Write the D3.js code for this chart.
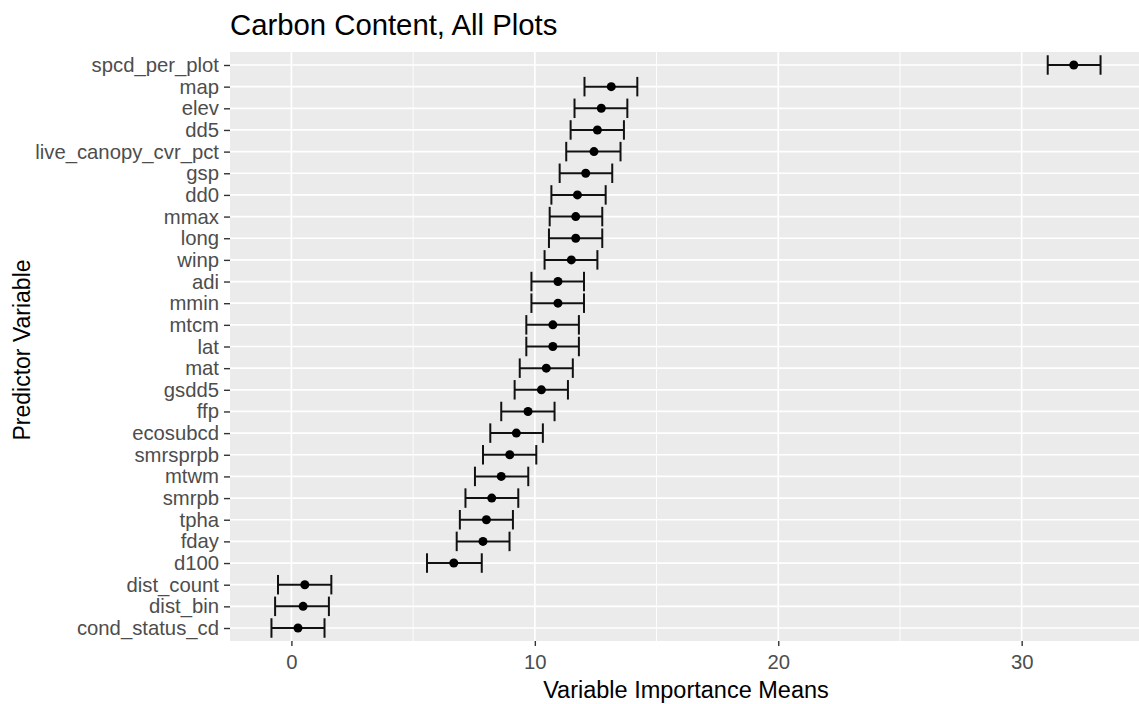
<!DOCTYPE html>
<html>
<head>
<meta charset="utf-8">
<script src="https://cdn.jsdelivr.net/npm/d3@7"></script>
<style>
  body { margin: 0; background: white; }
  svg { display: block; font-family: "Liberation Sans", Arial, sans-serif; }
</style>
</head>
<body>
<div id="chart"></div>
<script>
const width = 1139, height = 704;
const panel = {left: 230, right: 1142, top: 52, bottom: 641};

// top to bottom, as drawn
let variables = ["spcd_per_plot", "map", "elev", "dd5", "live_canopy_cvr_pct", "gsp", "dd0", "mmax", "long", "winp",
                 "adi", "mmin", "mtcm", "lat", "mat", "gsdd5", "ffp", "ecosubcd", "smrsprpb", "mtwm",
                 "smrpb", "tpha", "fday", "d100", "dist_count", "dist_bin", "cond_status_cd"];
let means  = [32.14, 13.14, 12.73, 12.57, 12.43, 12.09, 11.75, 11.68, 11.68, 11.50,
              10.95, 10.95, 10.74, 10.74, 10.47, 10.27, 9.72, 9.24, 8.97, 8.62,
              8.23, 8.01, 7.87, 6.67, 0.55, 0.48, 0.27];
let lowers = [31.07, 12.04, 11.63, 11.47, 11.29, 11.02, 10.68, 10.61, 10.58, 10.40,
              9.86, 9.86, 9.65, 9.65, 9.38, 9.17, 8.62, 8.17, 7.87, 7.54,
              7.15, 6.92, 6.79, 5.57, -0.55, -0.67, -0.82];
let uppers = [33.24, 14.21, 13.80, 13.66, 13.52, 13.18, 12.91, 12.77, 12.77, 12.57,
              12.02, 12.02, 11.81, 11.81, 11.56, 11.36, 10.81, 10.33, 10.06, 9.73,
              9.32, 9.10, 8.96, 7.82, 1.64, 1.54, 1.36];
let majorTicks = [0, 10, 20, 30];
let minorTicks = [5, 15, 25];

let data = variables.map(function(v, i) {
    return {name: v, mean: means[i], lo: lowers[i], hi: uppers[i]};
});

let svg = d3.select("#chart")
    .append("svg")
    .attr("width", width)
    .attr("height", height);

// ggplot style 5% expansion of the data range
let xmin = d3.min(lowers), xmax = d3.max(uppers);
let pad = (xmax - xmin) * 0.05;
let x = d3.scaleLinear()
    .domain([xmin - pad, xmax + pad])
    .range([panel.left, panel.right]);

let y = d3.scalePoint()
    .domain(variables)
    .range([panel.top, panel.bottom])
    .padding(0.6);

svg.append("rect")
    .attr("x", panel.left)
    .attr("y", panel.top)
    .attr("width", panel.right - panel.left)
    .attr("height", panel.bottom - panel.top)
    .attr("fill", "#EBEBEB");

let grid = svg.append("g");

grid.selectAll(".minor")
    .data(minorTicks)
    .enter()
    .append("line")
    .attr("x1", d => x(d)).attr("x2", d => x(d))
    .attr("y1", panel.top).attr("y2", panel.bottom)
    .attr("stroke", "white")
    .attr("stroke-width", 0.9);

grid.selectAll(".vmajor")
    .data(majorTicks)
    .enter()
    .append("line")
    .attr("x1", d => x(d)).attr("x2", d => x(d))
    .attr("y1", panel.top).attr("y2", panel.bottom)
    .attr("stroke", "white")
    .attr("stroke-width", 1.7);

grid.selectAll(".hmajor")
    .data(variables)
    .enter()
    .append("line")
    .attr("x1", panel.left).attr("x2", panel.right)
    .attr("y1", d => y(d)).attr("y2", d => y(d))
    .attr("stroke", "white")
    .attr("stroke-width", 1.7);

// error bars
let capHalf = y.step() * 0.45;
let bars = svg.append("g")
    .attr("stroke", "#111")
    .attr("stroke-width", 2);

bars.selectAll(".whisker")
    .data(data)
    .enter()
    .append("line")
    .attr("x1", d => x(d.lo)).attr("x2", d => x(d.hi))
    .attr("y1", d => y(d.name)).attr("y2", d => y(d.name));

bars.selectAll(".capl")
    .data(data)
    .enter()
    .append("line")
    .attr("x1", d => x(d.lo)).attr("x2", d => x(d.lo))
    .attr("y1", d => y(d.name) - capHalf).attr("y2", d => y(d.name) + capHalf);

bars.selectAll(".capr")
    .data(data)
    .enter()
    .append("line")
    .attr("x1", d => x(d.hi)).attr("x2", d => x(d.hi))
    .attr("y1", d => y(d.name) - capHalf).attr("y2", d => y(d.name) + capHalf);

svg.append("g")
    .selectAll("circle")
    .data(data)
    .enter()
    .append("circle")
    .attr("cx", d => x(d.mean))
    .attr("cy", d => y(d.name))
    .attr("r", 4.5)
    .attr("fill", "black");

// axes
let xAxis = svg.append("g")
    .attr("transform", `translate(0, ${panel.bottom})`)
    .call(d3.axisBottom(x).tickValues(majorTicks).tickSize(5).tickPadding(9));

let yAxis = svg.append("g")
    .attr("transform", `translate(${panel.left}, 0)`)
    .call(d3.axisLeft(y).tickSize(6).tickPadding(5));

[xAxis, yAxis].forEach(function(a) {
    a.select(".domain").remove();
    a.selectAll(".tick line").attr("stroke", "#333333").attr("stroke-width", 1.4);
    a.selectAll(".tick text")
        .attr("fill", "#4D4D4D")
        .style("font-size", "20.3px")
        .style("font-family", "'Liberation Sans', Arial, sans-serif");
});

svg.append("text")
    .attr("x", panel.left)
    .attr("y", 35)
    .style("font-size", "29.3px")
    .attr("fill", "black")
    .text("Carbon Content, All Plots");

svg.append("text")
    .attr("x", (panel.left + panel.right) / 2)
    .attr("y", 698)
    .style("text-anchor", "middle")
    .style("font-size", "23.5px")
    .attr("fill", "black")
    .text("Variable Importance Means");

svg.append("text")
    .attr("transform", `translate(30, 350) rotate(-90)`)
    .style("text-anchor", "middle")
    .style("font-size", "23px")
    .attr("fill", "black")
    .text("Predictor Variable");
</script>
</body>
</html>
